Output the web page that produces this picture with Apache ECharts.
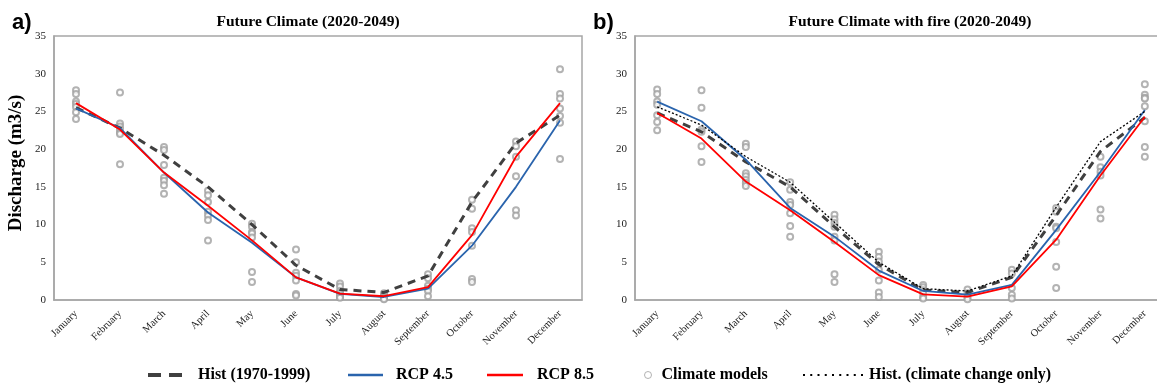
<!DOCTYPE html>
<html><head><meta charset="utf-8">
<script src="https://cdn.jsdelivr.net/npm/echarts/dist/echarts.min.js"></script>
<style>html,body{margin:0;padding:0;background:#fff}#c{width:1157px;height:387px}</style>
</head><body><div id="c"></div>
<script>
const months = ['January','February','March','April','May','June','July','August','September','October','November','December'];
const yMin = 0, yMax = 35, yStep = 5;

// Panel a) Future Climate (2020-2049)
const histA  = [25.5, 22.8, 19.2, 15.0, 10.0, 4.6, 1.4, 1.0, 3.2, 13.0, 20.8, 24.5];
const rcp45A = [25.4, 22.8, 16.9, 11.6, 7.6, 3.0, 0.8, 0.4, 1.5, 7.2, 15.0, 23.8];
const rcp85A = [26.1, 22.6, 16.9, 12.5, 7.9, 3.0, 0.85, 0.5, 1.7, 8.6, 19.0, 26.1];
const modelsA = [
  [27.8, 27.3, 26.3, 26.0, 25.6, 24.9, 24.0],
  [27.5, 23.4, 23.0, 22.6, 22.2, 22.0, 18.0],
  [20.3, 19.9, 17.9, 16.2, 15.8, 15.2, 14.1],
  [14.5, 13.9, 13.0, 11.7, 11.2, 10.6, 7.9],
  [10.1, 9.7, 9.0, 8.8, 8.3, 3.7, 2.4],
  [6.7, 5.0, 3.6, 3.2, 2.6, 0.8, 0.6],
  [2.2, 1.8, 1.2, 0.9, 0.6, 0.4, 0.3],
  [0.9, 0.7, 0.5, 0.4, 0.3, 0.2, 0.1],
  [3.4, 2.9, 1.9, 1.5, 1.2, 0.5],
  [13.3, 12.1, 9.5, 9.0, 7.2, 2.8, 2.4],
  [21.0, 20.4, 19.0, 16.4, 11.9, 11.2],
  [30.6, 27.3, 26.7, 25.4, 24.4, 23.5, 18.7]
];

// Panel b) Future Climate with fire (2020-2049)
const histB   = [24.8, 22.3, 18.3, 15.0, 9.7, 4.7, 1.3, 1.0, 3.0, 11.2, 19.7, 24.2];
const rcp45B  = [26.3, 23.7, 18.6, 12.2, 8.4, 3.9, 1.2, 0.7, 2.0, 9.3, 17.0, 25.2];
const rcp85B  = [24.8, 21.4, 15.7, 11.9, 7.7, 3.3, 0.75, 0.45, 1.8, 8.0, 16.5, 24.3];
const histCcB = [25.6, 23.2, 19.0, 15.6, 10.3, 5.0, 1.5, 1.2, 3.2, 12.3, 21.0, 25.0];
const modelsB = [
  [27.9, 27.3, 26.3, 25.9, 24.5, 23.6, 22.5],
  [27.8, 25.5, 22.6, 22.3, 20.4, 18.3],
  [20.7, 20.3, 16.8, 16.4, 15.9, 15.5, 15.1],
  [15.6, 14.6, 13.0, 12.6, 11.5, 9.8, 8.4],
  [11.3, 10.7, 10.2, 9.7, 8.4, 7.9, 3.4, 2.4],
  [6.4, 5.7, 5.1, 4.0, 2.6, 1.0, 0.4],
  [2.0, 1.7, 1.3, 0.9, 0.4, 0.2],
  [1.4, 0.9, 0.4, 0.1],
  [4.0, 3.5, 1.6, 0.7, 0.2],
  [12.2, 11.7, 9.7, 9.5, 7.7, 4.4, 1.6],
  [19.0, 17.6, 17.0, 16.5, 12.0, 10.8],
  [28.6, 27.2, 26.8, 26.7, 25.7, 23.7, 20.3, 19.0]
];

const N_HIST = 'Hist (1970-1999)', N45 = 'RCP 4.5', N85 = 'RCP 8.5', NMOD = 'Climate models', NCC = 'Hist. (climate change only)';
const SERIF = '"Liberation Serif", "Times New Roman", serif';
const AXC = '#a6a6a6', BLUE = '#2a64ad', RED = '#ff0000', DARK = '#404040', GRAY = '#a0a0a0';

function toPts(groups){ const out=[]; groups.forEach((g,i)=>g.forEach(v=>out.push([i,v]))); return out; }

function xAx(gi){ return {
  type:'category', gridIndex:gi, data:months, boundaryGap:true,
  axisLine:{lineStyle:{color:AXC,width:1.5}}, axisTick:{show:false},
  axisLabel:{rotate:45, interval:0, fontFamily:SERIF, fontSize:10.5, color:'#222', margin:12},
  splitLine:{show:false}
};}
function yAx(gi, name){ return {
  type:'value', gridIndex:gi, min:yMin, max:yMax, interval:yStep,
  name:name||'', nameLocation:'middle', nameGap:28, nameMoveOverlap:false,
  nameTextStyle:{fontFamily:SERIF, fontSize:19, fontWeight:'bold', color:'#000', padding:[0,0,0,10]},
  axisLine:{show:true, lineStyle:{color:AXC,width:1.5}}, axisTick:{show:false},
  axisLabel:{fontFamily:SERIF, fontSize:11, color:'#222', margin:8},
  splitLine:{show:false}
};}
function line(name, gi, data, color, width, type, z){ return {
  name, type:'line', xAxisIndex:gi, yAxisIndex:gi, data, symbol:'none', z:z||3,
  lineStyle:{color, width, type}, itemStyle:{color}
};}
function scat(gi, groups){ return {
  name:NMOD, type:'scatter', xAxisIndex:gi, yAxisIndex:gi, data:toPts(groups),
  symbol:'emptyCircle', symbolSize:6, z:1,
  itemStyle:{color:GRAY, borderColor:GRAY, borderWidth:0.8}
};}
const LEG_TOP = 367;
function leg(name, left, w, h, pad, icon, extra){ return Object.assign({
  data:[{name, icon}], left, top:LEG_TOP, itemWidth:w, itemHeight:h, padding:0,
  selectedMode:false, symbolKeepAspect:false,
  textStyle:{fontFamily:SERIF, fontSize:16, fontWeight:'bold', color:'#000', padding:[0,0,0,pad]}
}, extra||{});}
let dotPath = 'path://';
for (let i=0;i<9;i++){ const x=i*7.25; dotPath += 'M'+x+',0h2v2h-2z'; }

const chart = echarts.init(document.getElementById('c'), null, {renderer:'canvas'});
chart.setOption({
  animation:false,
  backgroundColor:'#fff',
  grid:[
    {left:54, top:36, width:528, height:264, show:true, borderColor:AXC, borderWidth:1.5, outerBoundsMode:'none', containLabel:false},
    {left:635, top:36, width:532, height:264, show:true, borderColor:AXC, borderWidth:1.5, outerBoundsMode:'none', containLabel:false}
  ],
  xAxis:[xAx(0), xAx(1)],
  yAxis:[yAx(0,'Discharge (m3/s)'), yAx(1)],
  legend:[
    leg(N_HIST, 148, 34, 4, 11, 'path://M0,0H13V4H0Z M21,0H34V4H21Z', {itemStyle:{color:DARK}}),
    leg(N45, 348, 35, 2.5, 8, 'rect', {itemStyle:{color:BLUE}}),
    leg(N85, 487, 36, 2.5, 9, 'rect', {itemStyle:{color:RED}}),
    leg(NMOD, 644, 7, 7, 5, 'circle', {itemStyle:{color:'#fff', borderColor:GRAY, borderWidth:1}}),
    leg(NCC, 803, 60, 2, 1, dotPath, {itemStyle:{color:'#000'}})
  ],
  graphic:[
    {type:'text', left:12, top:12, style:{text:'a)', font:'bold 22px "Liberation Sans", Arial, sans-serif', fill:'#000'}},
    {type:'text', left:593, top:12, style:{text:'b)', font:'bold 22px "Liberation Sans", Arial, sans-serif', fill:'#000'}},
    {type:'text', x:308, y:22, style:{text:'Future Climate (2020-2049)', font:'bold 15.5px "Liberation Serif", serif', fill:'#000', align:'center', verticalAlign:'middle'}},
    {type:'text', x:910, y:22, style:{text:'Future Climate with fire (2020-2049)', font:'bold 15.5px "Liberation Serif", serif', fill:'#000', align:'center', verticalAlign:'middle'}}
  ],
  series:[
    scat(0, modelsA),
    line(N_HIST, 0, histA, DARK, 3, [8,6], 4),
    line(N45, 0, rcp45A, BLUE, 1.8, 'solid', 5),
    line(N85, 0, rcp85A, RED, 1.8, 'solid', 6),
    scat(1, modelsB),
    line(N_HIST, 1, histB, DARK, 3, [8,6], 4),
    line(N45, 1, rcp45B, BLUE, 1.8, 'solid', 5),
    line(N85, 1, rcp85B, RED, 1.8, 'solid', 6),
    line(NCC, 1, histCcB, '#000', 1.3, [2,2], 7)
  ]
});
</script>
</body></html>
